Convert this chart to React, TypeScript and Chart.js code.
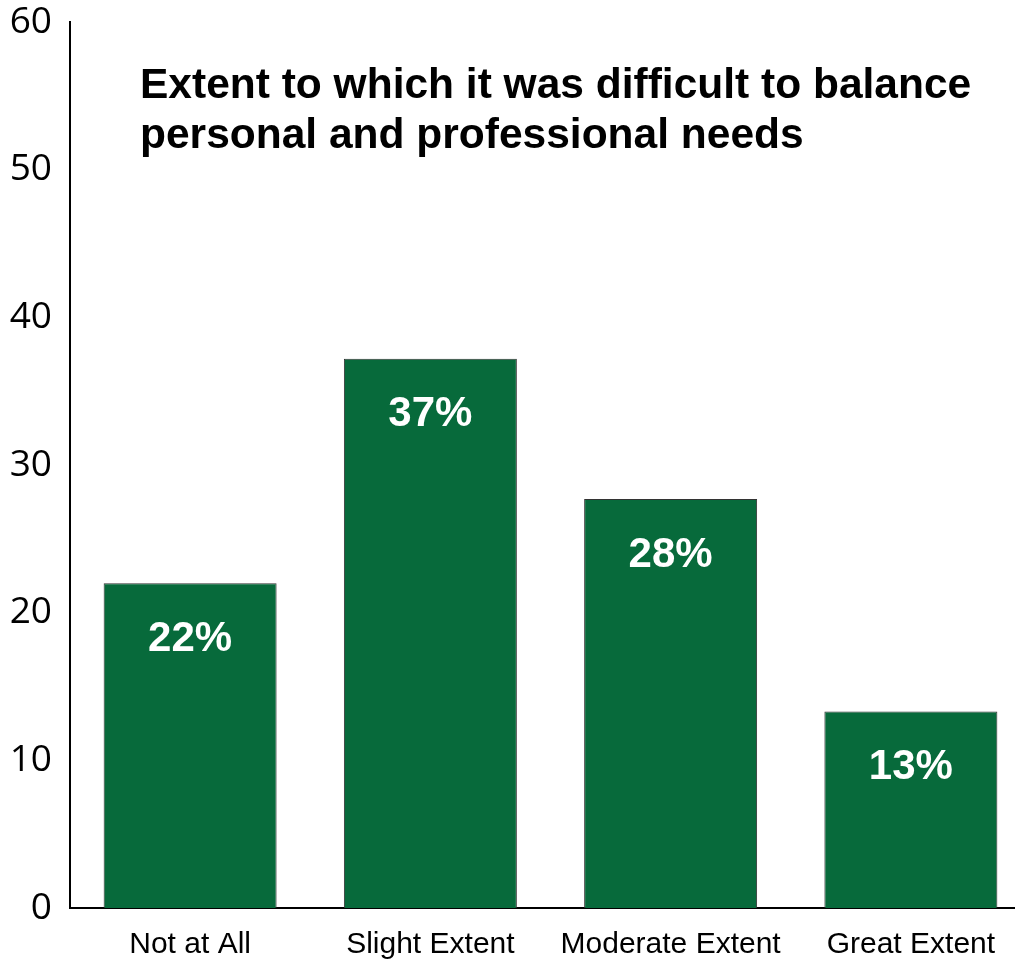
import React, { useEffect, useRef } from "react";
import { Chart, registerables } from "chart.js";

Chart.register(...registerables);

const categories = ["Not at All", "Slight Extent", "Moderate Extent", "Great Extent"];
const values = [22, 37.2, 27.7, 13.3];
const valueLabels = ["22%", "37%", "28%", "13%"];
const yTicks = [0, 10, 20, 30, 40, 50, 60];
const titleLines = [
  "Extent to which it was difficult to balance",
  "personal and professional needs",
];

const BAR_COLOR = "#076a3b";

const overlayPlugin = {
  id: "overlay",
  afterDatasetsDraw(chart: any) {
    const ctx = chart.ctx;
    const meta = chart.getDatasetMeta(0);
    ctx.save();
    ctx.fillStyle = "#ffffff";
    ctx.font = "bold 42px 'Liberation Sans', Arial, sans-serif";
    ctx.textAlign = "center";
    ctx.textBaseline = "middle";
    meta.data.forEach((bar: any, i: number) => {
      ctx.fillText(valueLabels[i], bar.x, bar.y + 56);
    });
    ctx.fillStyle = "#000000";
    ctx.font = "bold 42.5px 'Liberation Sans', Arial, sans-serif";
    ctx.textAlign = "left";
    ctx.textBaseline = "alphabetic";
    titleLines.forEach((line, i) => {
      ctx.fillText(line, 140, 98 + i * 50);
    });
    ctx.restore();
  },
};

export default function App() {
  const canvasRef = useRef<HTMLCanvasElement | null>(null);

  useEffect(() => {
    if (!canvasRef.current) return;
    const chart = new Chart(canvasRef.current, {
      type: "bar",
      data: {
        labels: categories,
        datasets: [
          {
            data: values,
            backgroundColor: BAR_COLOR,
            borderColor: "#333333",
            borderWidth: 1,
            barPercentage: 0.72,
            categoryPercentage: 1,
          },
        ],
      },
      options: {
        animation: false,
        responsive: false,
        maintainAspectRatio: false,
        layout: { padding: { top: 22, left: 0, right: 0, bottom: 0 } },
        plugins: {
          legend: { display: false },
          tooltip: { enabled: false },
          title: { display: false },
        },
        scales: {
          x: {
            grid: { display: false, drawTicks: false },
            border: { display: true, color: "#000000", width: 2 },
            ticks: {
              color: "#000000",
              font: { family: "'Liberation Sans', Arial, sans-serif", size: 30 },
              padding: 19,
              maxRotation: 0,
              autoSkip: false,
            },
            afterFit(scale: any) {
              scale.height = 53;
              scale.paddingLeft = 0;
              scale.paddingRight = 0;
            },
          },
          y: {
            min: 0,
            max: 60,
            afterBuildTicks(scale: any) {
              scale.ticks = yTicks.map((v) => ({ value: v }));
            },
            grid: { display: false, drawTicks: false },
            border: { display: true, color: "#000000", width: 2 },
            ticks: {
              color: "#000000",
              font: { family: "'Open Sans', sans-serif", size: 37 },
              padding: 18,
            },
            afterFit(scale: any) {
              scale.width = 70;
              scale.paddingTop = 0;
              scale.paddingBottom = 0;
            },
          },
        },
      },
      plugins: [overlayPlugin],
    });
    return () => chart.destroy();
  }, []);

  return (
    <div
      style={{
        position: "fixed",
        left: 0,
        top: 0,
        width: 1015,
        height: 961,
        overflow: "hidden",
        background: "#ffffff",
      }}
    >
      <canvas ref={canvasRef} width={1031} height={961} style={{ display: "block" }} />
    </div>
  );
}
